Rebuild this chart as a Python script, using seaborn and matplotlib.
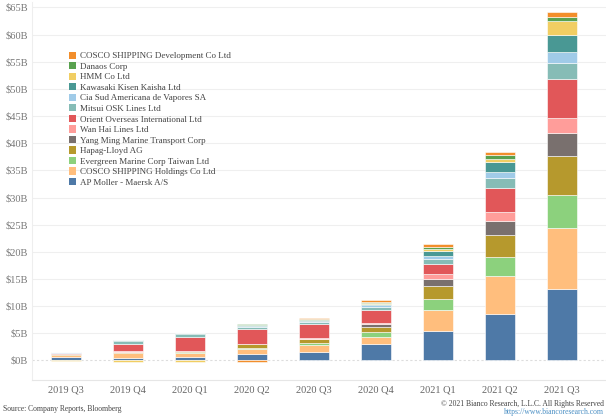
import numpy as np
import pandas as pd
import matplotlib
matplotlib.use("Agg")
import matplotlib.pyplot as plt
from matplotlib.patches import Patch
import seaborn as sns

quarters = ["2019 Q3", "2019 Q4", "2020 Q1", "2020 Q2", "2020 Q3", "2020 Q4", "2021 Q1", "2021 Q2", "2021 Q3"]

# series, bottom of stack first (values in $B)
ap_moller   = [0.70, 0.40, 0.60, 1.20, 1.60, 3.00, 5.40, 8.60, 13.10]
cosco_hold  = [0.30, 1.00, 0.85, 0.85, 1.30, 1.40, 3.80, 6.90, 11.20]
evergreen   = [0.05, 0.05, 0.10, 0.20, 0.30, 0.80, 2.10, 3.60, 6.20]
hapag       = [0.08, 0.10, 0.15, 0.70, 0.70, 1.00, 2.50, 4.00, 7.20]
yang_ming   = [0.02, 0.05, 0.05, 0.05, 0.10, 0.55, 1.20, 2.60, 4.10]
wan_hai     = [0.02, 0.05, 0.05, 0.05, 0.10, 0.20, 0.90, 1.60, 2.80]
ooil        = [0.15, 1.40, 2.60, 2.70, 2.60, 2.30, 1.80, 4.50, 7.20]
mitsui      = [0.12, 0.45, 0.45, 0.40, 0.30, 0.60, 1.00, 1.80, 2.90]
csav        = [0.04, 0.10, 0.05, 0.15, 0.20, 0.30, 0.50, 1.10, 2.10]
k_line      = [0.04, 0.10, 0.10, 0.20, 0.20, 0.30, 0.90, 1.80, 3.10]
hmm         = [-0.05, -0.20, -0.30, 0.10, 0.10, 0.20, 0.40, 0.60, 2.60]
danaos      = [0.02, 0.05, 0.05, 0.05, 0.10, 0.20, 0.40, 0.80, 0.80]
cosco_dev   = [0.03, 0.05, 0.05, -0.20, 0.20, 0.20, 0.50, 0.55, 0.80]

names = ["AP Moller - Maersk A/S", "COSCO SHIPPING Holdings Co Ltd", "Evergreen Marine Corp Taiwan Ltd",
         "Hapag-Lloyd AG", "Yang Ming Marine Transport Corp", "Wan Hai Lines Ltd",
         "Orient Overseas International Ltd", "Mitsui OSK Lines Ltd", "Cia Sud Americana de Vapores SA",
         "Kawasaki Kisen Kaisha Ltd", "HMM Co Ltd", "Danaos Corp", "COSCO SHIPPING Development Co Ltd"]
series = [ap_moller, cosco_hold, evergreen, hapag, yang_ming, wan_hai, ooil, mitsui, csav,
          k_line, hmm, danaos, cosco_dev]
colors = ["#4e79a7", "#ffbe7d", "#8cd17d", "#b6992d", "#79706e", "#ff9d9a", "#e15759",
          "#86bcb6", "#a0cbe8", "#499894", "#f1ce63", "#59a14f", "#f28e2b"]

sns.set_theme(style="white")
plt.rcParams["font.family"] = ["Liberation Serif", "DejaVu Serif"]

fig = plt.figure(figsize=(6.06, 4.16), dpi=100)
ax = fig.add_axes([32 / 606, 36 / 416, 1 - 32 / 606, 1 - 36 / 416 - 2 / 416])

pos_base = np.zeros(len(quarters))
neg_base = np.zeros(len(quarters))
for name, vals, col in zip(names, series, colors):
    v = np.array(vals, dtype=float)
    bottoms = np.where(v >= 0, pos_base, neg_base)
    df = pd.DataFrame({"quarter": quarters, "value": v})
    sns.barplot(data=df, x="quarter", y="value", order=quarters, color=col, width=0.49,
                bottom=bottoms, edgecolor="white", linewidth=0.4, saturation=1, ax=ax,
                errorbar=None)
    pos_base = pos_base + np.where(v >= 0, v, 0)
    neg_base = neg_base + np.where(v < 0, v, 0)

ax.set_xlim(-0.55, 8.71)
ax.set_ylim(-3.6, 66.0)
yt = np.arange(0, 70, 5)
ax.set_yticks(yt)
ax.set_yticklabels([f"${t}B" for t in yt])
ax.tick_params(axis="y", labelsize=7.5, colors="#777777", length=0, pad=3)
ax.tick_params(axis="x", labelsize=7.5, colors="#666666", length=0, pad=4)
ax.set_xlabel("")
ax.set_ylabel("")
for t in yt[1:]:
    ax.axhline(t, color="#efefef", lw=0.8, zorder=0)
ax.axhline(0, color="#dddddd", lw=0.8, ls=(0, (2, 2)), zorder=0)
for s in ["top", "right"]:
    ax.spines[s].set_visible(False)
ax.spines["left"].set_color("#eeeeee")
ax.spines["bottom"].set_color("#e6e6e6")
ax.spines["left"].set_linewidth(0.8)
ax.spines["bottom"].set_linewidth(0.8)

handles = [Patch(facecolor=c, edgecolor="none", label=n) for n, c in zip(names, colors)][::-1]
leg = ax.legend(handles=handles, loc="upper left", bbox_to_anchor=(33 / 574, 1 - 46 / 378),
                frameon=False, fontsize=6.5, handlelength=0.85, handleheight=0.85,
                handletextpad=0.45, labelspacing=0.2, borderaxespad=0)
for t in leg.get_texts():
    t.set_color("#444444")

fig.text(3 / 606, 1 - 409 / 416, "Source: Company Reports, Bloomberg", fontsize=5.5,
         color="#444444", va="center", ha="left")
fig.text(604 / 606, 1 - 404 / 416, "\u00a9 2021 Bianco Research, L.L.C. All Rights Reserved",
         fontsize=5.5, color="#444444", va="center", ha="right")
fig.text(604 / 606, 1 - 412 / 416, "https://www.biancoresearch.com", fontsize=5.5,
         color="#4a8fc4", va="center", ha="right")

fig.savefig("out.png", dpi=100, facecolor="white")
